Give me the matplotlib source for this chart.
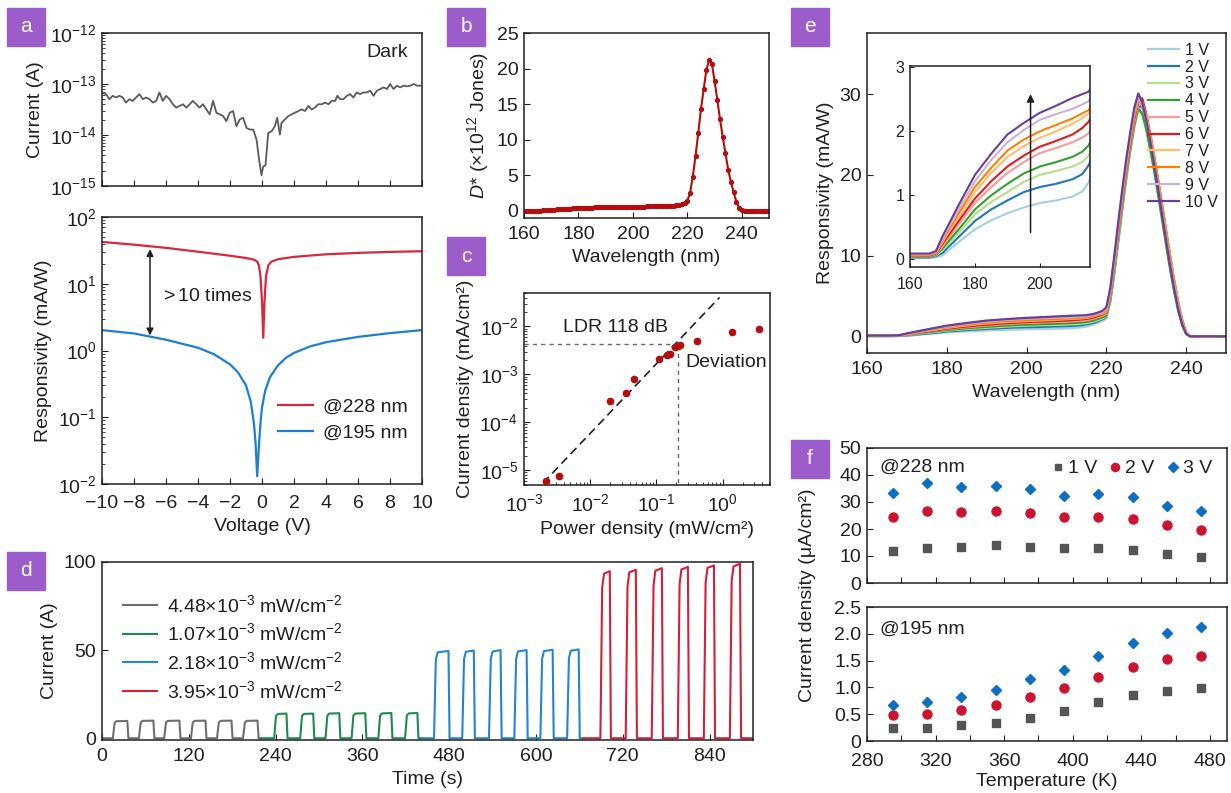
import numpy as np
import matplotlib
matplotlib.use("Agg")
import matplotlib.pyplot as plt
from matplotlib.patches import Rectangle
from matplotlib.ticker import LogLocator, NullFormatter

# =====================================================
# STYLE
# =====================================================
plt.rcParams["font.family"] = ["Liberation Sans", "DejaVu Sans"]
plt.rcParams["mathtext.fontset"] = "custom"
plt.rcParams["mathtext.rm"] = "Liberation Sans"
plt.rcParams["mathtext.it"] = "Liberation Sans:italic"
plt.rcParams["mathtext.default"] = "regular"
plt.rcParams["font.size"] = 14
plt.rcParams["text.color"] = "#231f20"
plt.rcParams["axes.labelcolor"] = "#231f20"
plt.rcParams["axes.edgecolor"] = "#231f20"
plt.rcParams["axes.linewidth"] = 1.1
plt.rcParams["xtick.color"] = "#231f20"
plt.rcParams["ytick.color"] = "#231f20"
plt.rcParams["xtick.direction"] = "in"
plt.rcParams["ytick.direction"] = "in"
plt.rcParams["xtick.major.size"] = 4
plt.rcParams["ytick.major.size"] = 4
plt.rcParams["xtick.minor.size"] = 2.2
plt.rcParams["ytick.minor.size"] = 2.2
plt.rcParams["xtick.major.pad"] = 6
plt.rcParams["ytick.major.pad"] = 4
plt.rcParams["axes.labelpad"] = 4

PURPLE = "#9c5cc9"

# =====================================================
# DATA
# =====================================================
# (a) dark current: voltage (V) and log10(current / A)
dark_v = [-10.0, -9.75, -9.54, -9.33, -9.12, -8.91, -8.70, -8.50, -8.29, -8.08,
          -7.87, -7.66, -7.45, -7.24, -7.03, -6.82, -6.61, -6.41, -6.20, -5.99,
          -5.78, -5.57, -5.36, -5.15, -4.94, -4.73, -4.52, -4.32, -4.11, -3.90,
          -3.69, -3.48, -3.27, -3.06, -2.85, -2.64, -2.43, -2.23, -2.02, -1.81,
          -1.60, -1.39, -1.18, -0.97, -0.76, -0.55, -0.34, -0.18, -0.03, 0.07,
          0.22, 0.39, 0.60, 0.80, 0.95, 1.12, 1.22, 1.43, 1.64, 1.85,
          2.06, 2.27, 2.48, 2.69, 2.90, 3.10, 3.31, 3.52, 3.73, 3.94,
          4.15, 4.36, 4.57, 4.71, 4.88, 5.09, 5.30, 5.51, 5.71, 5.92,
          6.13, 6.34, 6.55, 6.76, 6.97, 7.18, 7.39, 7.60, 7.81, 8.01,
          8.22, 8.43, 8.64, 8.85, 9.06, 9.27, 9.48, 9.69, 9.90]
dark_log = [-13.166, -13.199, -13.298, -13.232, -13.265, -13.232, -13.265, -13.364, -13.298, -13.331,
            -13.265, -13.199, -13.298, -13.265, -13.298, -13.364, -13.331, -13.166, -13.331, -13.232,
            -13.298, -13.397, -13.464, -13.430, -13.397, -13.464, -13.397, -13.331, -13.397, -13.464,
            -13.397, -13.497, -13.596, -13.331, -13.563, -13.596, -13.629, -13.728, -13.563, -13.530,
            -13.828, -13.695, -13.662, -13.861, -13.894, -13.894, -14.093, -14.490, -14.788, -14.623,
            -14.589, -13.960, -13.927, -13.828, -13.662, -13.993, -13.762, -13.695, -13.629, -13.596,
            -13.563, -13.530, -13.497, -13.530, -13.430, -13.497, -13.464, -13.397, -13.397, -13.364,
            -13.397, -13.331, -13.331, -13.232, -13.298, -13.298, -13.232, -13.199, -13.265, -13.166,
            -13.199, -13.166, -13.166, -13.132, -13.232, -13.132, -13.099, -13.066, -13.099, -13.000,
            -13.099, -13.033, -13.066, -13.033, -13.046, -13.033, -13.000, -13.033, -13.033]

# (a) responsivity vs voltage (mA/W)
r228_v = [-10, -8, -6, -4, -2, -1, -0.5, -0.3, -0.2, -0.1, 0.0, 0.08, 0.15, 0.25,
          0.4, 0.6, 1.0, 2.0, 4.0, 6.0, 8.0, 10]
r228 = [42.3, 38.5, 34.5, 30.2, 26.3, 24.3, 23.0, 21.5, 19.0, 13.5, 5.5, 1.55, 5.0, 13.0,
        19.0, 21.5, 23.3, 25.3, 27.6, 29.0, 30.0, 30.7]
r195_v = [-10, -8, -6, -4, -3, -2, -1.5, -1.0, -0.7, -0.5, -0.4, -0.3, -0.2, -0.1,
          0.0, 0.2, 0.5, 1.0, 1.5, 2.0, 3.0, 4.0, 6.0, 8.0, 10]
r195 = [2.02, 1.8, 1.45, 1.1, 0.88, 0.62, 0.47, 0.30, 0.17, 0.08, 0.04, 0.013, 0.035, 0.08,
        0.14, 0.25, 0.4, 0.6, 0.78, 0.92, 1.15, 1.33, 1.6, 1.82, 2.02]

# (b) detectivity (x1e12 Jones), 1 nm steps from 160 to 250 nm
det_wl = np.arange(160, 251)
det = [0.0, 0.0, 0.0, 0.0, 0.01, 0.03, 0.05, 0.08, 0.10, 0.12,
       0.15, 0.17, 0.20, 0.22, 0.25, 0.27, 0.30, 0.32, 0.35, 0.37,
       0.39, 0.41, 0.43, 0.45, 0.46, 0.47, 0.48, 0.50, 0.51, 0.52,
       0.53, 0.54, 0.55, 0.55, 0.56, 0.56, 0.57, 0.57, 0.58, 0.58,
       0.59, 0.59, 0.60, 0.60, 0.61, 0.62, 0.62, 0.63, 0.64, 0.65,
       0.66, 0.67, 0.68, 0.70, 0.72, 0.75, 0.80, 0.88, 1.00, 1.15,
       1.4, 2.5, 4.8, 7.7, 10.9, 14.3, 17.1, 19.8, 21.2, 20.7,
       18.3, 15.6, 12.9, 10.4, 8.1, 5.8, 4.1, 2.6, 1.3, 0.4,
       0.1, 0.0, 0.0, 0.0, 0.0, 0.0, 0.0, 0.0, 0.0, 0.0, 0.0]

# (c) linear dynamic range
power_c = [2.13e-3, 3.35e-3, 0.0201, 0.0343, 0.0454, 0.110, 0.143, 0.159, 0.194,
           0.210, 0.228, 0.404, 1.38, 3.5]
jc = [5.8e-6, 7.6e-6, 2.8e-4, 4.0e-4, 8.1e-4, 2.1e-3, 2.5e-3, 2.7e-3, 3.7e-3,
      3.9e-3, 4.2e-3, 4.9e-3, 7.7e-3, 8.8e-3]
fit_x = [1.94e-3, 0.90]
fit_y = [5.4e-6, 0.0405]
ldr_x = 0.215
ldr_y = 4.33e-3

# (d) on/off switching: segment span, pulse on/off times (s) and plateau (A)
d_labels = ["4.48×10$^{−3}$ mW/cm$^{−2}$", "1.07×10$^{−3}$ mW/cm$^{−2}$",
            "2.18×10$^{−3}$ mW/cm$^{−2}$", "3.95×10$^{−3}$ mW/cm$^{−2}$"]
d_colors = ["#6e6e6e", "#1f8a4c", "#2384d2", "#d51f36"]
d_span = [(0, 219), (219, 442), (442, 666), (666, 900)]
d_on = [[15, 51, 86, 123, 159, 195],
        [238, 274, 309, 345, 382, 419],
        [459, 498, 535, 570, 606, 643],
        [689, 724, 760, 796, 832, 868]]
d_off = [[35, 71, 107, 143, 179, 215],
         [255, 292, 328, 364, 400, 436],
         [479, 514, 551, 587, 623, 659],
         [702, 738, 774, 810, 846, 882]]
d_top = [[9.8, 10.0, 10.0, 10.0, 10.0, 10.0],
         [14.0, 14.0, 14.2, 14.2, 14.3, 14.3],
         [49.5, 49.8, 50.0, 50.0, 50.2, 50.4],
         [94.8, 95.6, 96.5, 97.2, 98.1, 99.0]]

# (e) responsivity spectra at 1-10 V (mA/W)
e_wl = [160, 166, 168, 170, 175, 180, 185, 190, 195, 200, 205, 210, 213, 215, 217, 219,
        220, 221, 222, 223, 224, 225, 226, 227, 228, 229, 230, 231, 232, 233, 234, 235,
        236, 237, 238, 239, 240, 241, 250]
e_labels = ["1 V", "2 V", "3 V", "4 V", "5 V", "6 V", "7 V", "8 V", "9 V", "10 V"]
e_colors = ["#a6cee3", "#1f78b4", "#b2df8a", "#33a02c", "#fb9a99",
            "#e31a1c", "#fdbf6f", "#ff7f00", "#cab2d6", "#6a3d9a"]
resp_1v = [0.02, 0.02, 0.03, 0.06, 0.27, 0.47, 0.61, 0.72, 0.81, 0.88, 0.92, 0.98, 1.06, 1.20, 1.50, 1.90,
           2.2, 4.2, 7.6, 11.6, 15.6, 19.4, 22.8, 25.9, 28.1, 28.3, 26.6, 24.3, 21.6, 18.6, 15.5, 12.3,
           9.2, 6.3, 3.7, 1.7, 0.4, 0.0, 0.0]
resp_2v = [0.03, 0.03, 0.05, 0.10, 0.35, 0.60, 0.78, 0.92, 1.05, 1.13, 1.18, 1.25, 1.33, 1.47, 1.70, 2.10,
           2.4, 4.4, 7.9, 11.9, 15.9, 19.7, 23.1, 26.2, 28.4, 28.6, 26.8, 24.4, 21.7, 18.7, 15.6, 12.4,
           9.3, 6.4, 3.8, 1.8, 0.4, 0.0, 0.0]
resp_3v = [0.04, 0.04, 0.06, 0.14, 0.42, 0.70, 0.90, 1.05, 1.21, 1.32, 1.38, 1.45, 1.52, 1.62, 1.85, 2.20,
           2.5, 4.5, 8.0, 12.0, 16.0, 19.7, 23.0, 25.9, 28.0, 27.5, 25.6, 23.1, 20.4, 17.4, 14.3, 11.2,
           8.2, 5.5, 3.1, 1.4, 0.3, 0.0, 0.0]
resp_4v = [0.04, 0.04, 0.07, 0.17, 0.47, 0.78, 1.00, 1.18, 1.34, 1.45, 1.52, 1.60, 1.68, 1.78, 2.00, 2.35,
           2.6, 4.7, 8.3, 12.3, 16.3, 20.0, 23.3, 26.2, 28.2, 27.6, 25.7, 23.2, 20.5, 17.5, 14.4, 11.3,
           8.3, 5.6, 3.2, 1.4, 0.3, 0.0, 0.0]
resp_5v = [0.05, 0.05, 0.08, 0.20, 0.55, 0.88, 1.13, 1.35, 1.52, 1.66, 1.74, 1.83, 1.90, 1.97, 2.20, 2.55,
           2.8, 5.0, 8.6, 12.7, 16.7, 20.4, 23.7, 26.6, 28.6, 29.0, 27.4, 25.0, 22.3, 19.4, 16.3, 13.1,
           10.0, 7.0, 4.3, 2.1, 0.5, 0.0, 0.0]
resp_6v = [0.06, 0.06, 0.09, 0.24, 0.60, 0.95, 1.22, 1.45, 1.62, 1.76, 1.85, 1.95, 2.05, 2.15, 2.35, 2.70,
           3.0, 5.3, 9.0, 13.1, 17.1, 20.8, 24.1, 27.0, 29.0, 29.5, 27.6, 25.1, 22.3, 19.3, 16.2, 13.0,
           9.9, 6.9, 4.2, 2.0, 0.5, 0.0, 0.0]
resp_7v = [0.07, 0.07, 0.10, 0.27, 0.67, 1.05, 1.35, 1.60, 1.77, 1.90, 2.00, 2.12, 2.20, 2.28, 2.50, 2.80,
           3.1, 5.5, 9.3, 13.5, 17.5, 21.2, 24.5, 27.4, 29.3, 29.0, 27.3, 24.9, 22.2, 19.2, 16.1, 12.9,
           9.8, 6.8, 4.2, 2.0, 0.5, 0.0, 0.0]
resp_8v = [0.07, 0.07, 0.11, 0.30, 0.72, 1.13, 1.43, 1.70, 1.87, 2.00, 2.10, 2.20, 2.28, 2.33, 2.55, 2.90,
           3.2, 5.6, 9.4, 13.6, 17.6, 21.3, 24.6, 27.4, 29.2, 28.8, 27.0, 24.6, 21.9, 18.9, 15.8, 12.6,
           9.5, 6.6, 4.0, 1.9, 0.5, 0.0, 0.0]
resp_9v = [0.08, 0.08, 0.12, 0.32, 0.78, 1.22, 1.55, 1.83, 2.02, 2.18, 2.27, 2.35, 2.42, 2.47, 2.70, 3.00,
           3.4, 5.8, 9.7, 13.9, 17.9, 21.6, 24.9, 27.8, 29.6, 28.8, 26.8, 24.3, 21.5, 18.5, 15.3, 12.1,
           9.0, 6.2, 3.7, 1.7, 0.4, 0.0, 0.0]
resp_10v = [0.09, 0.09, 0.13, 0.36, 0.85, 1.32, 1.65, 1.95, 2.13, 2.29, 2.40, 2.52, 2.58, 2.62, 2.80, 3.15,
            3.6, 6.0, 10.0, 14.2, 18.2, 22.0, 25.3, 28.3, 30.1, 29.0, 26.8, 24.2, 21.3, 18.2, 15.0, 11.8,
            8.7, 5.9, 3.4, 1.5, 0.3, 0.0, 0.0]
e_resp = [resp_1v, resp_2v, resp_3v, resp_4v, resp_5v,
          resp_6v, resp_7v, resp_8v, resp_9v, resp_10v]

# (f) current density vs temperature (uA/cm2)
temp_f = [295, 315, 335, 355, 375, 395, 415, 435, 455, 475]
j228_1v = [11.8, 12.9, 13.3, 13.9, 13.5, 12.8, 12.8, 12.4, 10.9, 9.8]
j228_2v = [24.3, 26.8, 26.4, 26.8, 25.9, 24.3, 24.4, 23.8, 21.3, 19.7]
j228_3v = [33.3, 37.2, 35.7, 36.1, 34.9, 32.4, 32.8, 31.9, 28.7, 26.6]
j195_1v = [0.24, 0.25, 0.29, 0.34, 0.43, 0.56, 0.73, 0.86, 0.94, 0.99]
j195_2v = [0.48, 0.51, 0.58, 0.67, 0.83, 0.98, 1.20, 1.38, 1.53, 1.59]
j195_3v = [0.67, 0.72, 0.82, 0.95, 1.15, 1.33, 1.59, 1.83, 2.02, 2.13]

# =====================================================
# FIGURE
# =====================================================
W, H = 1231, 793
fig = plt.figure(figsize=(W / 100, H / 100), dpi=100)


def add_ax(l, t, r, b):
    return fig.add_axes([l / W, 1 - b / H, (r - l) / W, (b - t) / H])


def panel_label(x, y, s):
    fig.patches.append(Rectangle((x / W, 1 - (y + 38) / H), 38 / W, 38 / H,
                                 transform=fig.transFigure, color=PURPLE, zorder=5))
    fig.text((x + 19) / W, 1 - (y + 19) / H, s, color="white", ha="center",
             va="center", fontsize=15, zorder=6)


def log_ticks(axis, decades):
    axis.set_ticks(decades)
    axis.set_minor_locator(LogLocator(base=10, subs=np.arange(2, 10), numticks=12))
    axis.set_minor_formatter(NullFormatter())


# ---------------- (a) top: dark current ----------------
ax = add_ax(102, 33, 422, 186)
ax.plot(dark_v, 10 ** np.array(dark_log), color="#5b5b5b", lw=1.3)
ax.set_yscale("log")
ax.set_xlim(-10, 10)
ax.set_ylim(1e-15, 1e-12)
ax.set_xticks(range(-10, 11, 2))
ax.tick_params(labelbottom=False)
log_ticks(ax.yaxis, [1e-15, 1e-14, 1e-13, 1e-12])
ax.set_ylabel("Current (A)")
ax.text(0.955, 0.87, "Dark", transform=ax.transAxes, ha="right", va="center")

# ---------------- (a) bottom: responsivity ----------------
ax = add_ax(102, 217, 422, 484)
ax.plot(r228_v, r228, color="#d6293d", lw=1.6, label="@228 nm")
ax.plot(r195_v, r195, color="#1f7fcf", lw=1.6, label="@195 nm")
ax.set_yscale("log")
ax.set_xlim(-10, 10)
ax.set_ylim(1e-2, 1e2)
ax.set_xticks(range(-10, 11, 2))
ax.tick_params(axis="x", pad=8)
log_ticks(ax.yaxis, [1e-2, 1e-1, 1e0, 1e1, 1e2])
ax.set_xlabel("Voltage (V)")
ax.set_ylabel("Responsivity (mA/W)")
ax.annotate("", xy=(-7.0, 33.0), xytext=(-7.0, 1.68),
            arrowprops=dict(arrowstyle="<|-|>", color="#231f20", lw=1.1,
                            mutation_scale=10, shrinkA=0, shrinkB=0))
ax.text(-6.4, 6.4, "$>$10 times", ha="left", va="center")
ax.legend(loc="lower right", bbox_to_anchor=(0.985, 0.12), frameon=False,
          borderpad=0, handlelength=1.8, handletextpad=0.5, labelspacing=0.45)

# ---------------- (b) detectivity ----------------
ax = add_ax(524, 33, 769, 218)
ax.plot(det_wl, det, color="#b30d0d", lw=1.5, marker="o", ms=2.8)
ax.set_xlim(160, 250)
ax.set_ylim(-1, 25)
ax.set_xticks([160, 180, 200, 220, 240])
ax.set_yticks([0, 5, 10, 15, 20, 25])
ax.set_xlabel("Wavelength (nm)")
ax.set_ylabel(r"$\mathit{D}$* (×10$^{12}$ Jones)")

# ---------------- (c) LDR ----------------
ax = add_ax(524, 293, 770, 485)
ax.set_xscale("log")
ax.set_yscale("log")
ax.plot(fit_x, fit_y, color="#231f20", lw=1.2, ls=(0, (5, 3)))
ax.plot([1e-3, ldr_x], [ldr_y, ldr_y], color="#666666", lw=1.0, ls=(0, (3, 3)))
ax.plot([ldr_x, ldr_x], [1e-7, ldr_y], color="#666666", lw=1.0, ls=(0, (3, 3)))
ax.plot(power_c, jc, "o", color="#b30d0d", ms=4.5, zorder=3)
ax.set_xlim(1e-3, 5.2)
ax.set_ylim(4.9e-6, 0.05)
log_ticks(ax.xaxis, [1e-3, 1e-2, 1e-1, 1e0])
log_ticks(ax.yaxis, [1e-5, 1e-4, 1e-3, 1e-2])
ax.set_xlabel("Power density (mW/cm²)")
ax.set_ylabel("Current density (mA/cm²)")
ax.text(0.37, 0.82, "LDR 118 dB", transform=ax.transAxes, ha="center", va="center")
ax.text(0.655, 0.64, "Deviation", transform=ax.transAxes, ha="left", va="center")

# ---------------- (d) switching ----------------
ax = add_ax(102, 562, 753, 740)
for k in range(4):
    t = [d_span[k][0]]
    y = [0.0]
    for on, off, top in zip(d_on[k], d_off[k], d_top[k]):
        t += [on, on + 2.5, on + 5.0, off, off + 1.5]
        y += [0.0, 0.9 * top, 0.985 * top, top, 0.0]
    t.append(d_span[k][1])
    y.append(0.0)
    ax.plot(t, y, color=d_colors[k], lw=1.5, label=d_labels[k])
ax.set_xlim(0, 900)
ax.set_ylim(-1, 100)
ax.set_xticks(range(0, 900, 120))
ax.set_yticks([0, 50, 100])
ax.set_xlabel("Time (s)")
ax.set_ylabel("Current (A)")
ax.legend(loc="upper left", bbox_to_anchor=(0.018, 0.875), frameon=False,
          borderpad=0, handlelength=1.75, handletextpad=0.5, labelspacing=0.35)

# ---------------- (e) responsivity spectra ----------------
ax = add_ax(867, 33, 1226, 353)
for k in range(10):
    ax.plot(e_wl, e_resp[k], color=e_colors[k], lw=1.6, label=e_labels[k])
ax.set_xlim(160, 250)
ax.set_ylim(-2.07, 37.6)
ax.set_xticks([160, 180, 200, 220, 240])
ax.set_yticks([0, 10, 20, 30])
ax.set_xlabel("Wavelength (nm)")
ax.set_ylabel("Responsivity (mA/W)")
ax.legend(loc="upper right", bbox_to_anchor=(1.0, 0.995), frameon=False, fontsize=11.5,
          borderpad=0, handlelength=1.9, handletextpad=0.4, labelspacing=0.12)

axi = add_ax(910, 66, 1090, 267)
for k in range(10):
    axi.plot(e_wl, e_resp[k], color=e_colors[k], lw=1.5)
axi.set_xlim(160, 215.4)
axi.set_ylim(-0.12, 3.02)
axi.set_xticks([160, 180, 200])
axi.set_yticks([0, 1, 2, 3])
axi.tick_params(labelsize=11.5, length=3)
axi.tick_params(axis="x", pad=7)
axi.annotate("", xy=(197.1, 2.58), xytext=(197.1, 0.42),
             arrowprops=dict(arrowstyle="-|>", color="#231f20", lw=1.1,
                             mutation_scale=11, shrinkA=0, shrinkB=0))

# ---------------- (f) temperature ----------------
axt = add_ax(867, 448, 1227, 583)
axb = add_ax(867, 607, 1227, 741)
f_style = [("s", "#555555", 5.5, "1 V"), ("o", "#cc1430", 6.5, "2 V"), ("D", "#0d6fc0", 5.5, "3 V")]
for (m, c, ms, lab), y in zip(f_style, [j228_1v, j228_2v, j228_3v]):
    axt.plot(temp_f, y, m, color=c, ms=ms, ls="none", label=lab)
for (m, c, ms, lab), y in zip(f_style, [j195_1v, j195_2v, j195_3v]):
    axb.plot(temp_f, y, m, color=c, ms=ms, ls="none")
for a in (axt, axb):
    a.set_xlim(280, 490)
    a.set_xticks(range(280, 481, 20))
axt.tick_params(labelbottom=False)
axb.set_xticklabels([str(v) if v % 40 == 0 else "" for v in range(280, 481, 20)])
axb.tick_params(axis="x", pad=9)
axt.set_ylim(0, 50)
axt.set_yticks([0, 10, 20, 30, 40, 50])
axb.set_ylim(0, 2.5)
axb.set_yticks([0, 0.5, 1.0, 1.5, 2.0, 2.5])
axb.set_yticklabels(["0", "0.5", "1.0", "1.5", "2.0", "2.5"])
axt.text(0.035, 0.86, "@228 nm", transform=axt.transAxes, ha="left", va="center")
axb.text(0.035, 0.83, "@195 nm", transform=axb.transAxes, ha="left", va="center")
axt.legend(loc="upper right", bbox_to_anchor=(0.985, 0.985), frameon=False, ncol=3,
           borderpad=0, handlelength=0.7, handletextpad=0.15, columnspacing=0.6,
           markerscale=0.9)
axb.set_xlabel("Temperature (K)", labelpad=2)
fig.text(808 / W, 1 - 595 / H, "Current density (μA/cm²)", rotation=90,
         ha="center", va="center", fontsize=14)

# ---------------- panel labels ----------------
panel_label(7, 8, "a")
panel_label(447, 8, "b")
panel_label(447, 237, "c")
panel_label(7, 552, "d")
panel_label(791, 8, "e")
panel_label(791, 440, "f")

fig.savefig("out.png", dpi=100)
